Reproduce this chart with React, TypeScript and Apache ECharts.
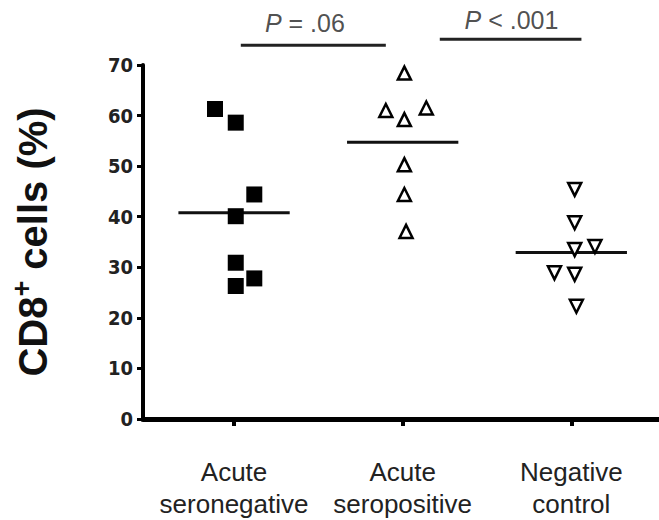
import React, { useEffect, useRef } from "react";
import * as echarts from "echarts";

const categories = ["Acute\nseronegative", "Acute\nseropositive", "Negative\ncontrol"];
const categoryPositions = [1, 2, 3];
const yTicks = [0, 10, 20, 30, 40, 50, 60, 70];

// [x position (jittered around group), CD8+ %]
const seronegative = [
  [0.887, 61.3], [1.01, 58.6], [1.12, 44.4], [1.01, 40.1],
  [1.01, 30.9], [1.12, 27.8], [1.01, 26.3],
];
const seropositive = [
  [2.01, 68.4], [1.9, 61.0], [2.14, 61.5], [2.01, 59.2],
  [2.01, 50.3], [2.01, 44.4], [2.02, 37.1],
];
const negativeControl = [
  [3.02, 45.4], [3.02, 38.8], [3.02, 33.5], [3.14, 34.1],
  [2.9, 28.9], [3.02, 28.6], [3.03, 22.3],
];
const medians = [40.8, 54.7, 32.9];

// comparison brackets: [from, to, height]
const brackets = [
  [1.04, 1.9, 73.9],
  [2.22, 3.06, 75.1],
];
const pLabels = [
  { x: 1.42, y: 78.3, text: "{it|P} = .06" },
  { x: 2.645, y: 78.9, text: "{it|P} < .001" },
];

const MEDIAN_HALF = 0.33;
const INK = "#111";

export default function App() {
  const ref = useRef<HTMLDivElement>(null);
  useEffect(() => {
    if (!ref.current) return;
    document.body.style.margin = "0";
    const chart = echarts.init(ref.current, null, { renderer: "svg" });
    const series: any[] = [];
    series.push({
      type: "scatter",
      data: seronegative,
      symbol: "rect",
      symbolSize: 16,
      itemStyle: { color: "#000", opacity: 1 },
      z: 5,
    });
    series.push({
      type: "scatter",
      data: seropositive,
      symbol: "triangle",
      symbolSize: 13,
      itemStyle: { color: "#fff", borderColor: "#000", borderWidth: 2.5, opacity: 1 },
      z: 5,
    });
    series.push({
      type: "scatter",
      data: negativeControl,
      symbol: "triangle",
      symbolRotate: 180,
      symbolSize: 13,
      itemStyle: { color: "#fff", borderColor: "#000", borderWidth: 2.5, opacity: 1 },
      z: 5,
    });
    medians.forEach((m, i) => {
      const c = categoryPositions[i];
      series.push({
        type: "line",
        data: [[c - MEDIAN_HALF, m], [c + MEDIAN_HALF, m]],
        symbol: "none",
        lineStyle: { color: "#111", width: 3 },
        z: 3,
      });
    });
    brackets.forEach((b) => {
      series.push({
        type: "line",
        data: [[b[0], b[2]], [b[1], b[2]]],
        symbol: "none",
        clip: false,
        lineStyle: { color: "#222", width: 3 },
      });
    });
    series.push({
      type: "scatter",
      data: pLabels.map((p) => ({ value: [p.x, p.y], name: p.text })),
      symbolSize: 1,
      clip: false,
      itemStyle: { color: "transparent" },
      label: {
        show: true,
        position: "inside",
        formatter: (p: any) => p.name,
        color: "#222",
        fontSize: 25,
        fontFamily: "Liberation Sans, Arial, sans-serif",
        rich: {
          it: {
            fontStyle: "italic",
            fontSize: 25,
            color: "#222",
            fontFamily: "Liberation Sans, Arial, sans-serif",
          },
        },
      },
    });

    chart.setOption({
      animation: false,
      backgroundColor: "#fff",
      grid: { left: 138, right: 0, top: 65, bottom: 100, containLabel: false },
      xAxis: {
        type: "value",
        min: 0.46,
        max: 3.52,
        splitLine: { show: false },
        axisLine: { show: true, onZero: false, lineStyle: { color: "#000", width: 5 } },
        axisTick: {
          show: true,
          customValues: categoryPositions,
          length: 7,
          lineStyle: { color: "#000", width: 4 },
        },
        axisLabel: {
          show: true,
          customValues: categoryPositions,
          formatter: (v: number) => {
            const idx = categoryPositions.indexOf(Math.round(v));
            return idx >= 0 ? categories[idx] : "";
          },
          margin: 37,
          fontSize: 26,
          lineHeight: 32,
          color: "#222",
          fontFamily: "Liberation Sans, Arial, sans-serif",
        },
      },
      yAxis: {
        type: "value",
        min: yTicks[0],
        max: yTicks[yTicks.length - 1],
        interval: 10,
        splitLine: { show: false },
        axisLine: { show: true, lineStyle: { color: "#000", width: 4 } },
        axisTick: { show: true, length: 6, lineStyle: { color: "#000", width: 3 } },
        axisLabel: {
          margin: 10,
          fontSize: 20,
          fontWeight: "bold",
          color: "#222",
          fontFamily: "Liberation Sans Narrow, DejaVu Sans Condensed, sans-serif",
        },
        name: "{m|CD8}{s|+}{m| cells (%)}",
        nameLocation: "middle",
        nameRotate: 90,
        nameGap: 86,
        nameTextStyle: {
          rich: {
            m: {
              fontSize: 40,
              fontWeight: "bold",
              color: INK,
              fontFamily: "Liberation Sans, Arial, sans-serif",
            },
            s: {
              fontSize: 27,
              fontWeight: "bold",
              color: INK,
              padding: [0, 0, 22, 0],
              fontFamily: "Liberation Sans, Arial, sans-serif",
            },
          },
        },
      },
      series,
    });
    return () => chart.dispose();
  }, []);
  return <div ref={ref} style={{ width: 659, height: 520 }} />;
}
